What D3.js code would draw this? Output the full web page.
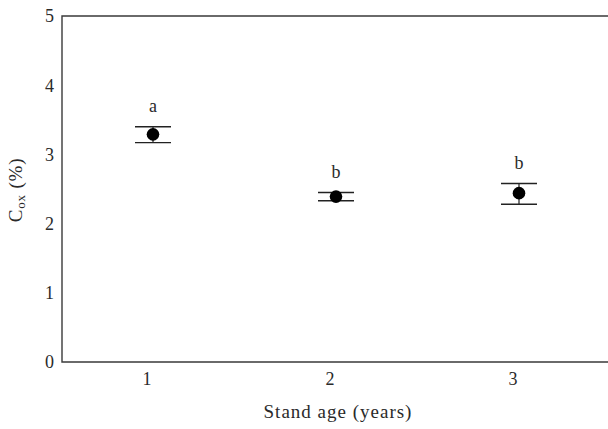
<!DOCTYPE html>
<html>
<head>
<meta charset="utf-8">
<script src="https://cdn.jsdelivr.net/npm/d3@7"></script>
<style>
  body { margin: 0; background: #fff; }
  text { font-family: "Liberation Serif", "DejaVu Serif", serif; fill: #2a2a2a; }
</style>
</head>
<body>
<div id="chart"></div>
<script>
// Stand age vs Cox, mean with error bars
const ages = [1, 2, 3]
const means = [3.29, 2.39, 2.44]
const upper = [3.40, 2.45, 2.58]
const lower = [3.17, 2.33, 2.28]
const letters = ["a", "b", "b"]
const yTicks = [0, 1, 2, 3, 4, 5]

const w = 608, h = 429
const mLeft = 62, mTop = 16, mBottom = 362, mRight = 608

const svg = d3.select("#chart").append("svg")
    .attr("width", w)
    .attr("height", h)

const x = d3.scaleLinear().domain([1, 3]).range([153, 519])
const y = d3.scaleLinear().domain([0, 5]).range([mBottom, mTop])

// frame (left, top, bottom)
svg.append("path")
    .attr("d", `M${mRight},${mTop}H${mLeft}V${mBottom}H${mRight}`)
    .attr("fill", "none")
    .attr("stroke", "#3a3a3a")
    .attr("stroke-width", 1.4)

// y tick labels
svg.append("g").selectAll("text")
    .data(yTicks)
    .join("text")
        .attr("x", 54)
        .attr("y", d => y(d))
        .attr("dy", "0.35em")
        .attr("text-anchor", "end")
        .attr("font-size", 18)
        .text(d => d)

// x tick labels (sit a little left of the points in the original)
svg.append("g").selectAll("text")
    .data(ages)
    .join("text")
        .attr("x", d => x(d) - 6)
        .attr("y", mBottom + 17)
        .attr("dy", "0.35em")
        .attr("text-anchor", "middle")
        .attr("font-size", 18)
        .text(d => d)

const pts = ages.map((a, i) => ({age: a, m: means[i], hi: upper[i], lo: lower[i], lab: letters[i]}))
const g = svg.append("g")

// error bars
g.selectAll(".whisker")
    .data(pts)
    .join("line")
        .attr("class", "whisker")
        .attr("x1", d => x(d.age)).attr("x2", d => x(d.age))
        .attr("y1", d => y(d.hi)).attr("y2", d => y(d.lo))
        .attr("stroke", "#222").attr("stroke-width", 1.2)

g.selectAll(".capTop")
    .data(pts)
    .join("line")
        .attr("class", "capTop")
        .attr("x1", d => x(d.age) - 18).attr("x2", d => x(d.age) + 18)
        .attr("y1", d => y(d.hi)).attr("y2", d => y(d.hi))
        .attr("stroke", "#222").attr("stroke-width", 1.4)

g.selectAll(".capBot")
    .data(pts)
    .join("line")
        .attr("class", "capBot")
        .attr("x1", d => x(d.age) - 18).attr("x2", d => x(d.age) + 18)
        .attr("y1", d => y(d.lo)).attr("y2", d => y(d.lo))
        .attr("stroke", "#222").attr("stroke-width", 1.4)

g.selectAll("circle")
    .data(pts)
    .join("circle")
        .attr("cx", d => x(d.age))
        .attr("cy", d => y(d.m))
        .attr("r", 6.3)
        .attr("fill", "#000")

// significance letters
g.selectAll(".letter")
    .data(pts)
    .join("text")
        .attr("class", "letter")
        .attr("x", d => x(d.age))
        .attr("y", d => y(d.hi) - 14.5)
        .attr("text-anchor", "middle")
        .attr("font-size", 18)
        .text(d => d.lab)

// axis titles
svg.append("text")
    .attr("x", 338)
    .attr("y", 418)
    .attr("text-anchor", "middle")
    .attr("font-size", 19)
    .attr("letter-spacing", 1)
    .text("Stand age (years)")

const yl = svg.append("text")
    .attr("transform", "translate(22,190) rotate(-90)")
    .attr("text-anchor", "middle")
    .attr("font-size", 19)
    .attr("letter-spacing", 0.8)
yl.append("tspan").text("C")
yl.append("tspan").attr("font-size", 13).attr("dy", 3).text("ox")
yl.append("tspan").attr("dy", -3).text(" (%)")
</script>
</body>
</html>
